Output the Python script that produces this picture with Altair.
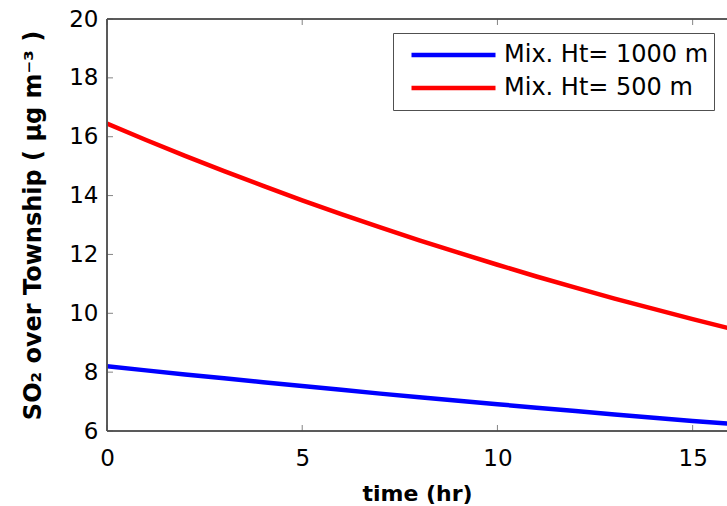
import altair as alt
import pandas as pd

hours = [0, 1, 2, 3, 4, 5, 6, 7, 8, 9, 10, 11, 12, 13, 14, 15, 16]
so2_1000m = [8.20, 8.06, 7.92, 7.79, 7.66, 7.53, 7.40, 7.27, 7.15, 7.03,
             6.91, 6.79, 6.68, 6.56, 6.45, 6.34, 6.24]
so2_500m = [16.45, 15.89, 15.35, 14.83, 14.33, 13.84, 13.37, 12.92, 12.48,
            12.06, 11.65, 11.25, 10.87, 10.50, 10.15, 9.80, 9.47]
series_names = ["Mix. Ht= 1000 m", "Mix. Ht= 500 m"]
series_colors = ["#0000ff", "#ff0000"]
x_ticks = [0, 5, 10, 15]
y_ticks = [6, 8, 10, 12, 14, 16, 18, 20]

rows = []
for name, vals in zip(series_names, [so2_1000m, so2_500m]):
    for h, v in zip(hours, vals):
        rows.append({"time": h, "so2": v, "series": name})
df = pd.DataFrame(rows)

W, H = 620, 412
FONT = "DejaVu Sans"
AX = "#505050"

xscale = alt.Scale(domain=[0, 15.88], nice=False, zero=False)
yscale = alt.Scale(domain=[6, 20], nice=False, zero=False)

lines = alt.Chart(df).mark_line(strokeWidth=4.5, clip=True).encode(
    x=alt.X("time:Q", scale=xscale,
            axis=alt.Axis(values=x_ticks, title="time (hr)", ticks=False, domain=False,
                          grid=False, labelPadding=16, labelFont=FONT, labelFontSize=23,
                          labelFlush=False, labelOverlap=False,
                          labelColor="black", titleFont=FONT, titleFontSize=22,
                          titleFontWeight="bold", titleColor="black", titlePadding=13)),
    y=alt.Y("so2:Q", scale=yscale,
            axis=alt.Axis(values=y_ticks, title="SO₂ over Township ( µg m⁻³ )", ticks=False,
                          domain=False, grid=False, labelPadding=9, labelFont=FONT,
                          labelFontSize=23, labelColor="black", labelFlush=False,
                          labelOverlap=False, titleFont=FONT,
                          titleFontSize=24, titleFontWeight="bold", titleColor="black",
                          titleAngle=270, titleX=-67, titleY=H / 2,
                          titleAlign="center", titleBaseline="alphabetic")),
    color=alt.Color("series:N", sort=series_names,
                    scale=alt.Scale(domain=series_names, range=series_colors),
                    legend=alt.Legend(title=None, orient="none", legendX=286, legendY=14,
                                      fillColor="white", strokeColor=AX, padding=5.5,
                                      symbolType="stroke", symbolSize=7056,
                                      symbolStrokeWidth=4.5, symbolOffset=10.5,
                                      clipHeight=33, rowPadding=0,
                                      labelFont=FONT, labelFontSize=24, labelColor="black",
                                      labelOffset=6, labelLimit=400,
                                      labelExpr="datum.label + '\u00a0\u2009'")),
)

xt = pd.DataFrame({"t": x_ticks})
yt = pd.DataFrame({"v": y_ticks})

bottom_ticks = alt.Chart(xt).mark_tick(color=AX, size=6, thickness=1).encode(
    x=alt.X("t:Q", scale=xscale), y=alt.value(H - 3))
top_ticks = alt.Chart(xt).mark_tick(color=AX, size=6, thickness=1).encode(
    x=alt.X("t:Q", scale=xscale), y=alt.value(3))
left_ticks = alt.Chart(yt).mark_tick(color=AX, size=6, thickness=1).encode(
    y=alt.Y("v:Q", scale=yscale), x=alt.value(3))

frame_top = alt.Chart(xt).mark_rule(color=AX, strokeWidth=1).encode(
    x=alt.value(0), x2=alt.value(W), y=alt.value(0))
frame_bottom = alt.Chart(xt).mark_rule(color=AX, strokeWidth=1).encode(
    x=alt.value(0), x2=alt.value(W), y=alt.value(H))
frame_left = alt.Chart(xt).mark_rule(color=AX, strokeWidth=1).encode(
    x=alt.value(0), y=alt.value(0), y2=alt.value(H))

chart = alt.layer(
    lines, bottom_ticks, top_ticks, left_ticks, frame_top, frame_bottom, frame_left
).properties(
    width=W, height=H,
    padding={"left": 107, "top": 19, "right": 0, "bottom": 75},
    autosize=alt.AutoSizeParams(type="none"),
    background="white",
).configure_view(stroke=None)

chart.save("out.html", embed_options={"renderer": "svg", "actions": False})
